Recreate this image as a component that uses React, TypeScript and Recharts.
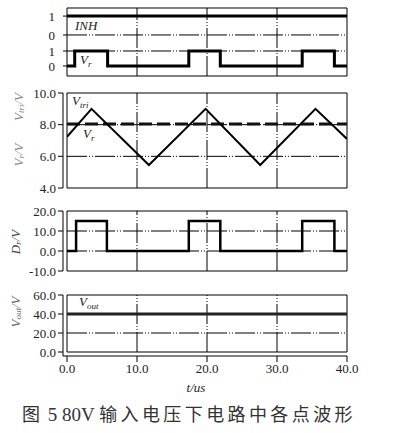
import React from 'react';
import {
  LineChart,
  Line,
  XAxis,
  YAxis,
  ReferenceLine,
  ReferenceArea,
  Customized
} from 'recharts';

// 時間軸
const tTicks = [0, 10, 20, 30, 40];
const tTickLabels = ['0.0', '10.0', '20.0', '30.0', '40.0'];
const gridT = [10, 20, 30];

// パネル1: 論理信号 (INH, Vr)
const logicTickPos = [0, 1, 2.07, 3.33];
const logicTickLabels = ['0', '1', '0', '1'];
const logicGrid = [1, 2.07];
const inhT = [0, 40];
const inhLevel = [3.33, 3.33];
const vrLogicT = [0, 1.1, 5.8, 17.4, 21.9, 33.6, 38.2, 40];
const vrLogicLevel = [0, 1, 0, 1, 0, 1, 0, 0];

// パネル2: 三角波と基準電圧
const triT = [0, 3.5, 11.7, 19.8, 27.6, 35.5, 40];
const triV = [7.23, 9.0, 5.45, 9.0, 5.45, 9.0, 7.1];
const vrRefT = [0, 40];
const vrRefV = [8.05, 8.05];
const p2Ticks = [4, 6, 8, 10];
const p2Grid = [6, 8];

// パネル3: 駆動信号
const drT = [0, 1.3, 5.7, 17.4, 21.9, 33.6, 38.2, 40];
const drV = [0, 15, 0, 15, 0, 15, 0, 0];
const p3Ticks = [0, 10, 20];
const p3TickLabels = ['0.0', '10.0', '20.0'];
const p3Min = -10;
const p3MinLabel = '-10.0';
const p3Grid = [0, 10];

// パネル4: 出力電圧
const voutT = [0, 40];
const voutV = [40, 40];
const p4Ticks = [0, 20, 40, 60];
const p4Grid = [20, 40];

const zip = (ts: number[], vs: number[]) => ts.map((t, i) => ({ t, v: vs[i] }));

const SERIF = '"Liberation Serif", "Times New Roman", serif';
const W = 395;
const DASH_DOT = '20 2 1 2 1 2';
const tickStyle = { fontSize: 13, fill: '#222', fontFamily: SERIF };

// グリッド線 (枠内のみ)
const gridLines = (yMin: number, yMax: number, yVals: number[]) => [
  ...gridT.map(x => (
    <ReferenceLine
      key={'gx' + x}
      segment={[{ x, y: yMin }, { x, y: yMax }]}
      stroke="#000"
      strokeWidth={1}
      strokeDasharray={DASH_DOT}
    />
  )),
  ...yVals.map(y => (
    <ReferenceLine
      key={'gy' + y}
      segment={[{ x: 0, y }, { x: 40, y }]}
      stroke="#000"
      strokeWidth={1}
      strokeDasharray={DASH_DOT}
    />
  ))
];

const frame = (yMin: number, yMax: number) => (
  <ReferenceArea x1={0} x2={40} y1={yMin} y2={yMax} fill="none" stroke="#000" strokeWidth={1} />
);

// 縦書きの軸タイトル
const YTitle = ({ x, y, main, sub, fill }: { x: number; y: number; main: string; sub?: string; fill: string }) => (
  <text
    x={x}
    y={y}
    transform={`rotate(-90 ${x} ${y})`}
    textAnchor="middle"
    dominantBaseline="central"
    fontFamily={SERIF}
    fontStyle="italic"
    fontSize={13}
    fill={fill}
  >
    {main}
    {sub && (
      <tspan fontSize={9} dy={3}>
        {sub}
      </tspan>
    )}
    <tspan dy={sub ? -3 : 0}>/V</tspan>
  </text>
);

const SigLabel = ({ x, y, main, sub, size = 13 }: { x: number; y: number; main: string; sub?: string; size?: number }) => (
  <text x={x} y={y} fontFamily={SERIF} fontStyle="italic" fontSize={size} fill="#222">
    {main}
    {sub && (
      <tspan fontSize={9} dy={3}>
        {sub}
      </tspan>
    )}
  </text>
);

// パネル3の下端目盛り (-10.0) は基準線のラベルとして描く
const MinTickLabel = (props: any) => {
  const vb = props.viewBox || {};
  const x = vb.x ?? 63;
  const y = vb.y ?? 0;
  return (
    <g>
      <line x1={x - 5} y1={y} x2={x} y2={y} stroke="#000" />
      <text x={x - 7} y={y} textAnchor="end" dominantBaseline="central" fontFamily={SERIF} fontSize={13} fill="#222">
        {p3MinLabel}
      </text>
    </g>
  );
};

export default function App() {
  return (
    <div style={{ position: 'absolute', left: 0, top: 0, width: W, height: 433, background: '#fff' }}>
      {/* パネル1 */}
      <div style={{ position: 'absolute', left: 0, top: 0 }}>
        <LineChart width={W} height={85} margin={{ top: 8, right: 48, bottom: 9, left: 0 }}>
          <XAxis type="number" dataKey="t" domain={[0, 40]} ticks={tTicks} hide allowDataOverflow />
          <YAxis
            type="number"
            domain={[-0.67, 3.87]}
            ticks={logicTickPos}
            interval={0}
            tickFormatter={(v: number) => logicTickLabels[logicTickPos.indexOf(v)] ?? ''}
            width={67}
            axisLine={false}
            tickSize={4}
            tickMargin={8}
            tickLine={{ stroke: '#000' }}
            tick={tickStyle}
            allowDataOverflow
          />
          {gridLines(-0.67, 3.87, logicGrid)}
          {frame(-0.67, 3.87)}
          <Line data={zip(inhT, inhLevel)} dataKey="v" type="linear" stroke="#000" strokeWidth={3} dot={false} isAnimationActive={false} />
          <Line data={zip(vrLogicT, vrLogicLevel)} dataKey="v" type="stepAfter" stroke="#000" strokeWidth={3} dot={false} isAnimationActive={false} />
          <Customized
            component={() => (
              <g>
                <SigLabel x={75} y={30} main="INH" size={13} />
                <SigLabel x={80} y={64} main="V" sub="r" />
              </g>
            )}
          />
        </LineChart>
      </div>

      {/* パネル2 */}
      <div style={{ position: 'absolute', left: 0, top: 85 }}>
        <LineChart width={W} height={110} margin={{ top: 8, right: 48, bottom: 7, left: 0 }}>
          <XAxis type="number" dataKey="t" domain={[0, 40]} ticks={tTicks} hide padding={{ left: 4, right: 0 }} allowDataOverflow />
          <YAxis
            type="number"
            domain={[4, 10]}
            ticks={p2Ticks}
            interval={0}
            tickFormatter={(v: number) => v.toFixed(1)}
            width={63}
            axisLine={{ stroke: '#000' }}
            tickLine={{ stroke: '#000' }}
            tickSize={5}
            tick={tickStyle}
          />
          {gridLines(4, 10, p2Grid)}
          {frame(4, 10)}
          <Line data={zip(vrRefT, vrRefV)} dataKey="v" type="linear" stroke="#111" strokeWidth={3} strokeDasharray="13 5" dot={false} isAnimationActive={false} />
          <Line data={zip(triT, triV)} dataKey="v" type="linear" stroke="#000" strokeWidth={2} dot={false} isAnimationActive={false} />
          <Customized
            component={() => (
              <g>
                <YTitle x={18} y={22} main="V" sub="tri" fill="#888" />
                <YTitle x={18} y={70} main="V" sub="r" fill="#888" />
                <SigLabel x={72} y={20} main="V" sub="tri" />
                <SigLabel x={83} y={53} main="V" sub="r" />
              </g>
            )}
          />
        </LineChart>
      </div>

      {/* パネル4 */}
      <div style={{ position: 'absolute', left: 0, top: 280 }}>
        <LineChart width={W} height={120} margin={{ top: 15, right: 48, bottom: 4, left: 0 }}>
          <XAxis
            type="number"
            dataKey="t"
            domain={[0, 40]}
            ticks={tTicks}
            interval={0}
            tickFormatter={(v: number) => tTickLabels[tTicks.indexOf(v)] ?? ''}
            padding={{ left: 4, right: 0 }}
            height={40}
            axisLine={{ stroke: '#000' }}
            tickLine={{ stroke: '#000' }}
            tickSize={6}
            tick={tickStyle}
            allowDataOverflow
          />
          <YAxis
            type="number"
            domain={[0, 60]}
            ticks={p4Ticks}
            interval={0}
            tickFormatter={(v: number) => v.toFixed(1)}
            width={63}
            padding={{ top: 0, bottom: 4 }}
            axisLine={{ stroke: '#000' }}
            tickLine={{ stroke: '#000' }}
            tickSize={5}
            tick={tickStyle}
          />
          {gridLines(0, 60, p4Grid)}
          {frame(0, 60)}
          <Line data={zip(voutT, voutV)} dataKey="v" type="linear" stroke="#222" strokeWidth={3} dot={false} isAnimationActive={false} />
          <Customized
            component={() => (
              <g>
                <YTitle x={15} y={32} main="V" sub="out" fill="#666" />
                <SigLabel x={79} y={26} main="V" sub="out" />
                <text x={196} y={112} textAnchor="middle" fontFamily={SERIF} fontStyle="italic" fontSize={13} fill="#222">
                  t/us
                </text>
              </g>
            )}
          />
        </LineChart>
      </div>

      {/* パネル3 */}
      <div style={{ position: 'absolute', left: 0, top: 190 }}>
        <LineChart width={W} height={100} margin={{ top: 21, right: 48, bottom: 19, left: 0 }}>
          <XAxis type="number" dataKey="t" domain={[0, 40]} hide padding={{ left: 4, right: 0 }} />
          <YAxis
            type="number"
            domain={[p3Min, 20]}
            ticks={p3Ticks}
            interval={0}
            tickFormatter={(v: number) => p3TickLabels[p3Ticks.indexOf(v)] ?? ''}
            width={63}
            axisLine={{ stroke: '#000' }}
            tickLine={{ stroke: '#000' }}
            tickSize={5}
            tick={tickStyle}
          />
          {gridLines(p3Min, 20, p3Grid)}
          {frame(p3Min, 20)}
          <ReferenceLine y={p3Min} stroke="none" ifOverflow="visible" label={<MinTickLabel />} />
          <Line data={zip(drT, drV)} dataKey="v" type="stepAfter" stroke="#000" strokeWidth={2.5} dot={false} isAnimationActive={false} />
          <Customized
            component={() => (
              <g>
                <YTitle x={15} y={52} main="D" sub="r" fill="#444" />
              </g>
            )}
          />
        </LineChart>
      </div>

      {/* 図キャプション */}
      <div
        style={{
          position: 'absolute',
          left: 22,
          top: 404,
          fontFamily: '"Liberation Serif", "Noto Sans CJK SC", serif',
          fontSize: 18,
          lineHeight: '22px',
          color: '#333',
          whiteSpace: 'nowrap'
        }}
      >
        <span style={{ letterSpacing: 3 }}>图</span>
        <span style={{ fontSize: 19 }}> 5 80V </span>
        <span style={{ letterSpacing: 3.4 }}>输入电压下电路中各点波形</span>
      </div>
    </div>
  );
}
